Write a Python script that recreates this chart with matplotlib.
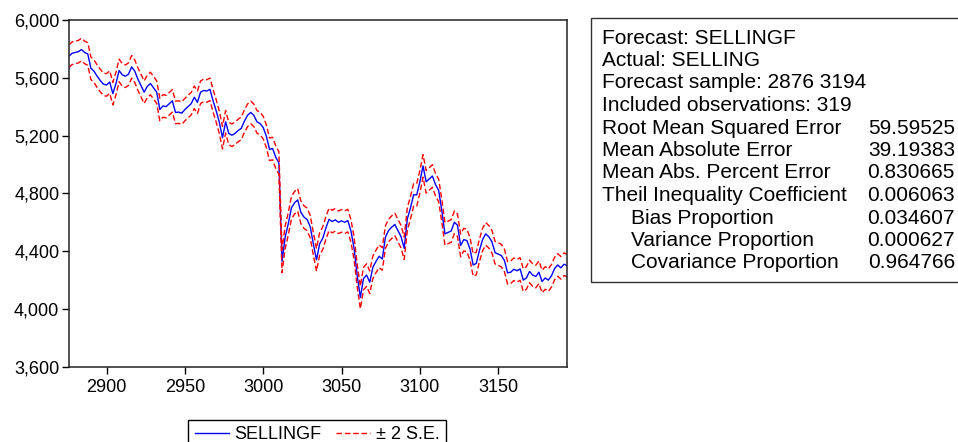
import numpy as np
import matplotlib
matplotlib.use('Agg')
import matplotlib.pyplot as plt
from matplotlib.ticker import FuncFormatter
from matplotlib.patches import Rectangle

plt.rcParams['font.family'] = ['Liberation Sans', 'DejaVu Sans']

# datos (cada 2 observaciones)
obs = np.arange(2876, 3195, 2)
sellingf = [
    5750, 5769, 5775, 5780, 5795, 5775, 5764, 5665, 5645, 5610,
    5580, 5555, 5550, 5570, 5490, 5560, 5650, 5620, 5610, 5625,
    5675, 5645, 5590, 5545, 5500, 5540, 5560, 5530, 5500, 5380,
    5405, 5400, 5420, 5440, 5360, 5362, 5355, 5380, 5400, 5420,
    5465, 5430, 5500, 5512, 5508, 5520, 5440, 5370, 5290, 5185,
    5295, 5215, 5202, 5215, 5235, 5250, 5300, 5340, 5360, 5340,
    5295, 5283, 5255, 5195, 5105, 5110, 5050, 5010, 4330, 4497,
    4590, 4700, 4735, 4755, 4670, 4636, 4620, 4570, 4450, 4340,
    4450, 4490, 4560, 4620, 4605, 4617, 4600, 4610, 4600, 4612,
    4540, 4420, 4230, 4080, 4210, 4235, 4185, 4289, 4330, 4365,
    4346, 4497, 4543, 4566, 4585, 4543, 4500, 4420, 4624, 4700,
    4790, 4790, 4880, 4990, 4880, 4900, 4920, 4860, 4820, 4680,
    4520, 4530, 4540, 4600, 4580, 4440, 4480, 4474, 4416, 4305,
    4315, 4405, 4480, 4520, 4500, 4465, 4390, 4380, 4370, 4335,
    4250, 4255, 4275, 4265, 4277, 4200, 4215, 4260, 4235, 4225,
    4255, 4190, 4215, 4200, 4230, 4280, 4305, 4285, 4310, 4300,
]
se = 39.0

stat_labels = [
    'Forecast: SELLINGF',
    'Actual: SELLING',
    'Forecast sample: 2876 3194',
    'Included observations: 319',
    'Root Mean Squared Error',
    'Mean Absolute Error',
    'Mean Abs. Percent Error',
    'Theil Inequality Coefficient',
    'Bias Proportion',
    'Variance Proportion',
    'Covariance Proportion',
]
stat_values = ['', '', '', '', '59.59525', '39.19383', '0.830665',
               '0.006063', '0.034607', '0.000627', '0.964766']
stat_indent = [0, 0, 0, 0, 0, 0, 0, 0, 1, 1, 1]

sellingf = np.array(sellingf, dtype=float)

fig = plt.figure(figsize=(9.58, 4.42), dpi=100)
ax = fig.add_axes([0.072, 0.170, 0.520, 0.785])

ax.plot(obs, sellingf, color='#0000FF', lw=1.0, label='SELLINGF')
ax.plot(obs, sellingf + 2 * se, color='#FF0000', lw=1.0, ls=(0, (4, 2)), label='± 2 S.E.')
ax.plot(obs, sellingf - 2 * se, color='#FF0000', lw=1.0, ls=(0, (4, 2)))

ax.set_xlim(2876, 3194)
ax.set_ylim(3600, 6000)
ax.set_xticks(np.arange(2900, 3151, 50))
ax.set_yticks(np.arange(3600, 6001, 400))
ax.yaxis.set_major_formatter(FuncFormatter(lambda v, p: f'{v:,.0f}'))
ax.tick_params(direction='out', length=5, width=1, labelsize=13, colors='black')
ax.tick_params(axis='y', pad=2)
for s in ax.spines.values():
    s.set_linewidth(1.1)
    s.set_color('#222222')

fig.legend(loc='center', bbox_to_anchor=(0.331, 0.016), ncol=2, fontsize=13,
           frameon=True, fancybox=False, edgecolor='black', framealpha=1,
           handlelength=1.9, handletextpad=0.3, columnspacing=0.8, borderpad=0.35)

# cuadro de estadisticos
fig.patches.append(Rectangle((591 / 958, 1 - 282 / 442), 0.5, (282 - 18) / 442,
                             transform=fig.transFigure, fill=False,
                             edgecolor='#333333', lw=1.0))
for i, (lab, val) in enumerate(zip(stat_labels, stat_values)):
    y = 1 - (38 + 22.5 * i) / 442
    x0 = 631 if stat_indent[i] else 602
    fig.text(x0 / 958, y, lab, fontsize=15, va='center', ha='left')
    if val:
        fig.text(955 / 958, y, val, fontsize=15, va='center', ha='right')

fig.savefig('out.png', dpi=100)
